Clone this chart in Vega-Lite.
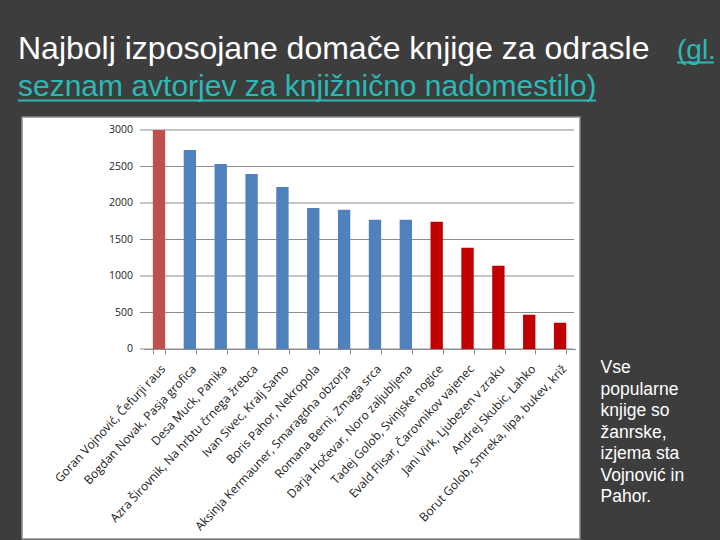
{
  "$schema": "https://vega.github.io/schema/vega-lite/v6.json",
  "width": 558,
  "height": 422,
  "autosize": {"type": "none"},
  "padding": {"left": 22, "top": 117, "right": 140, "bottom": 1},
  "background": "#3d3d3d",
  "config": {
    "view": {"fill": "white", "stroke": "#8a8a8a", "strokeWidth": 1.5}
  },
  "datasets": {
    "mreza": [{"v": 0}, {"v": 500}, {"v": 1000}, {"v": 1500}, {"v": 2000}, {"v": 2500}, {"v": 3000}]
  },
  "layer": [
    {
      "data": {"name": "mreza"},
      "mark": {"type": "rule", "color": "#8c8c8c", "strokeWidth": 1},
      "encoding": {
        "y": {"field": "v", "type": "quantitative", "scale": {"domain": [0, 3000], "range": [232, 13]}, "axis": null},
        "x": {"datum": 0, "type": "quantitative", "scale": {"domain": [0, 1], "range": [118, 552]}, "axis": null},
        "x2": {"datum": 1}
      }
    },
    {
      "data": {"name": "mreza"},
      "mark": {"type": "text", "align": "right", "baseline": "middle", "dx": -7, "font": "Open Sans", "fontSize": 10.5, "color": "#222222"},
      "encoding": {
        "y": {"field": "v", "type": "quantitative", "scale": {"domain": [0, 3000], "range": [232, 13]}, "axis": null},
        "x": {"datum": 0, "type": "quantitative", "scale": {"domain": [0, 1], "range": [118, 552]}, "axis": null},
        "text": {"field": "v", "type": "quantitative", "format": "d"}
      }
    },
    {
      "data": {"values": [
        {"knjiga": "Goran Vojnović, Čefurji raus", "izposoje": 3000, "skupina": "A"},
        {"knjiga": "Bogdan Novak, Pasja grofica", "izposoje": 2726, "skupina": "B"},
        {"knjiga": "Desa Muck, Panika", "izposoje": 2535, "skupina": "B"},
        {"knjiga": "Azra Širovnik, Na hrbtu črnega žrebca", "izposoje": 2398, "skupina": "B"},
        {"knjiga": "Ivan Sivec, Kralj Samo", "izposoje": 2220, "skupina": "B"},
        {"knjiga": "Boris Pahor, Nekropola", "izposoje": 1933, "skupina": "B"},
        {"knjiga": "Aksinja Kermauner, Smaragdna obzorja", "izposoje": 1906, "skupina": "B"},
        {"knjiga": "Romana Berni, Zmaga srca", "izposoje": 1769, "skupina": "B"},
        {"knjiga": "Darja Hočevar, Noro zaljubljena", "izposoje": 1769, "skupina": "B"},
        {"knjiga": "Tadej Golob, Svinjske nogice", "izposoje": 1742, "skupina": "C"},
        {"knjiga": "Evald Flisar, Čarovnikov vajenec", "izposoje": 1386, "skupina": "C"},
        {"knjiga": "Jani Virk, Ljubezen v zraku", "izposoje": 1140, "skupina": "C"},
        {"knjiga": "Andrej Skubic, Lahko", "izposoje": 470, "skupina": "C"},
        {"knjiga": "Borut Golob, Smreka, lipa, bukev, križ", "izposoje": 360, "skupina": "C"}
      ]},
      "mark": {"type": "bar"},
      "encoding": {
        "x": {
          "field": "knjiga", "type": "nominal", "sort": null,
          "scale": {"range": [121.6, 553.5], "paddingInner": 0.6, "paddingOuter": 0.3},
          "axis": {
            "title": null, "labelAngle": -47, "labelAlign": "right", "labelBaseline": "top",
            "labelFont": "Open Sans", "labelFontSize": 12,
            "labelColor": "#1a1a1a", "labelLimit": 0, "tickBand": "extent", "tickSize": 5,
            "tickColor": "#8c8c8c", "domainColor": "#8c8c8c", "offset": -190, "labelPadding": 9
          }
        },
        "y": {
          "field": "izposoje", "type": "quantitative",
          "scale": {"domain": [0, 3000], "range": [232, 13]},
          "axis": null
        },
        "color": {
          "field": "skupina", "type": "nominal",
          "scale": {"domain": ["A", "B", "C"], "range": ["#C0504D", "#4F81BD", "#C00000"]},
          "legend": null
        }
      }
    },
    {
      "data": {"values": [{}]},
      "mark": {"type": "text", "text": "Najbolj izposojane domače knjige za odrasle", "font": "Liberation Sans", "fontSize": 32, "color": "#ffffff", "align": "left", "baseline": "alphabetic"},
      "encoding": {
        "x": {"datum": -0.2811, "type": "quantitative", "scale": {"domain": [0, 1], "range": [118, 552]}, "axis": null},
        "y": {"datum": 3973, "type": "quantitative", "scale": {"domain": [0, 3000], "range": [232, 13]}, "axis": null}
      }
    },
    {
      "data": {"values": [{}]},
      "mark": {"type": "text", "text": "(gl.", "font": "Liberation Sans", "fontSize": 28, "color": "#2cb9b6", "align": "left", "baseline": "alphabetic"},
      "encoding": {
        "x": {"datum": 1.2373, "type": "quantitative", "scale": {"domain": [0, 1], "range": [118, 552]}, "axis": null},
        "y": {"datum": 3973, "type": "quantitative", "scale": {"domain": [0, 3000], "range": [232, 13]}, "axis": null}
      }
    },
    {
      "data": {"values": [{}]},
      "mark": {"type": "text", "text": "seznam avtorjev za knjižnično nadomestilo)", "font": "Liberation Sans", "fontSize": 30, "color": "#2cb9b6", "align": "left", "baseline": "alphabetic"},
      "encoding": {
        "x": {"datum": -0.2811, "type": "quantitative", "scale": {"domain": [0, 1], "range": [118, 552]}, "axis": null},
        "y": {"datum": 3466, "type": "quantitative", "scale": {"domain": [0, 3000], "range": [232, 13]}, "axis": null}
      }
    },
    {
      "data": {"values": [{}]},
      "mark": {"type": "rule", "color": "#2cb9b6", "strokeWidth": 2},
      "encoding": {
        "x": {"datum": -0.2811, "type": "quantitative", "scale": {"domain": [0, 1], "range": [118, 552]}, "axis": null},
        "x2": {"datum": 1.0507},
        "y": {"datum": 3404, "type": "quantitative", "scale": {"domain": [0, 3000], "range": [232, 13]}, "axis": null}
      }
    },
    {
      "data": {"values": [{}]},
      "mark": {"type": "rule", "color": "#2cb9b6", "strokeWidth": 2},
      "encoding": {
        "x": {"datum": 1.2373, "type": "quantitative", "scale": {"domain": [0, 1], "range": [118, 552]}, "axis": null},
        "x2": {"datum": 1.3226},
        "y": {"datum": 3925, "type": "quantitative", "scale": {"domain": [0, 3000], "range": [232, 13]}, "axis": null}
      }
    },
    {
      "data": {"values": [{}]},
      "mark": {"type": "text", "text": "Vse\npopularne\nknjige so\nžanrske,\nizjema sta\nVojnović in\nPahor.", "lineBreak": "\n", "lineHeight": 21.5, "font": "Liberation Sans", "fontSize": 17.5, "color": "#ffffff", "align": "left", "baseline": "alphabetic"},
      "encoding": {
        "x": {"datum": 1.0611, "type": "quantitative", "scale": {"domain": [0, 1], "range": [118, 552]}, "axis": null},
        "y": {"datum": -329, "type": "quantitative", "scale": {"domain": [0, 3000], "range": [232, 13]}, "axis": null}
      }
    }
  ],
  "resolve": {"scale": {"x": "independent"}}
}
